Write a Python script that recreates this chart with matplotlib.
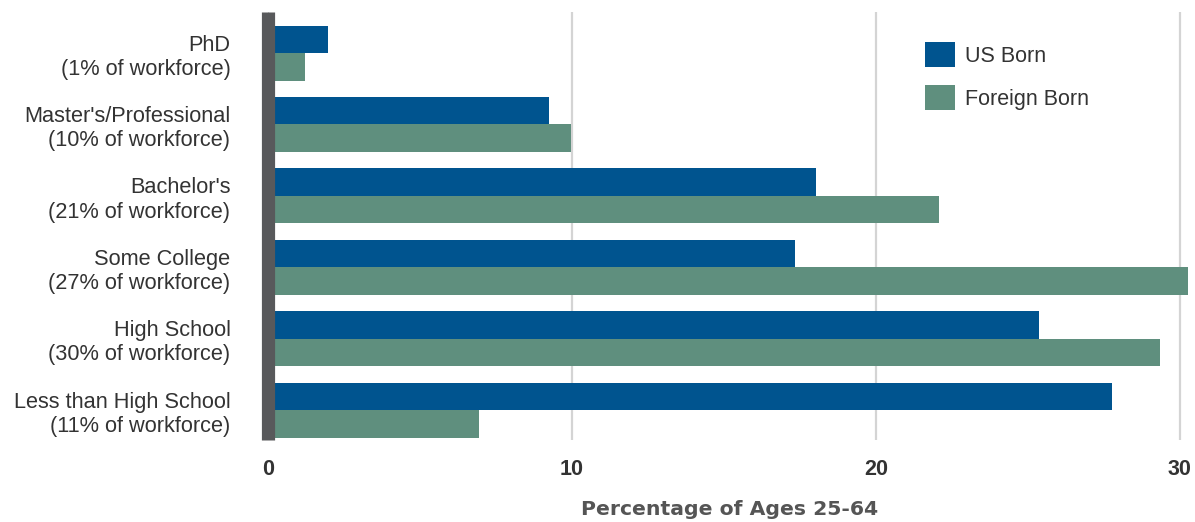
import matplotlib
matplotlib.use('Agg')
import matplotlib.pyplot as plt
import numpy as np

plt.rcParams['font.family'] = ['Liberation Sans', 'DejaVu Sans']

categories = ['PhD\n(1% of workforce)',
              "Master's/Professional\n(10% of workforce)",
              "Bachelor's\n(21% of workforce)",
              'Some College\n(27% of workforce)',
              'High School\n(30% of workforce)',
              'Less than High School\n(11% of workforce)']
us_born = [1.96, 9.24, 18.03, 17.34, 25.36, 27.76]
foreign_born = [1.23, 9.97, 22.07, 30.26, 29.34, 6.94]
xticks = [0, 10, 20, 30]

blue = '#00548F'
green = '#5F8F7E'

fig = plt.figure(figsize=(11.95, 5.22), dpi=100)
ax = fig.add_axes([268/1195, 1 - 440/522, (1192-268)/1195, 428/522])

y = np.arange(len(categories))
h = 0.385
ax.barh(y - h/2, us_born, height=h, color=blue, label='US Born', zorder=2)
ax.barh(y + h/2, foreign_born, height=h, color=green, label='Foreign Born', zorder=2)

ax.set_ylim(len(categories) - 1 + 0.42, -0.575)
ax.set_xlim(0, 30.4)
ax.set_yticks(y)
ax.set_yticklabels(categories, fontsize=15.7, color='#333333', linespacing=1.2)
ax.set_xticks(xticks)
ax.set_xticklabels([str(t) for t in xticks], fontsize=15.5, color='#333333', fontweight='bold')
ax.tick_params(axis='both', length=0)
ax.tick_params(axis='y', pad=27)
ax.tick_params(axis='x', pad=14)

ax.xaxis.grid(True, color='#d4d4d4', linewidth=1.6, zorder=0)
ax.set_axisbelow(True)
for s in ['top', 'right', 'bottom']:
    ax.spines[s].set_visible(False)
ax.spines['left'].set_color('#58595B')
ax.spines['left'].set_linewidth(9.5)
ax.spines['left'].set_capstyle('butt')
ax.spines['left'].set_zorder(3)

ax.set_xlabel('Percentage of Ages 25-64', fontsize=14.7, fontweight='bold',
              color='#555555', labelpad=14, family='DejaVu Sans')

ax.legend(loc='upper left', bbox_to_anchor=(0.69, 0.975), frameon=False,
          fontsize=15.5, handlelength=1.4, handleheight=1.4, handletextpad=0.45,
          labelspacing=0.85, labelcolor='#333333')

plt.savefig('out.png', dpi=100)
